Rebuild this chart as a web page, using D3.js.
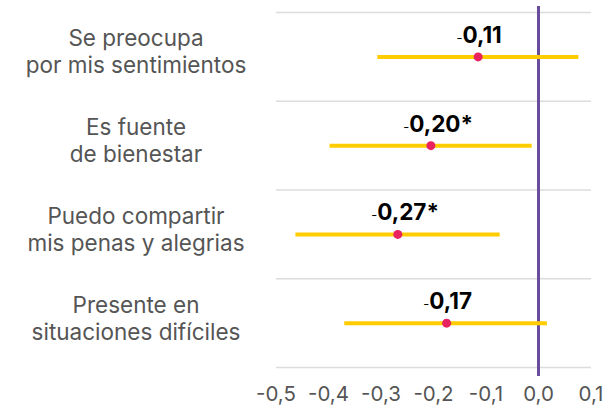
<!DOCTYPE html>
<html>
<head>
<meta charset="utf-8">
<script src="https://cdn.jsdelivr.net/npm/d3@7"></script>
<style>
  body { margin: 0; background: #fff; }
  svg { display: block; }
</style>
</head>
<body>
<div id="chart"></div>
<script>
var categories = [
  ["Se preocupa", "por mis sentimientos"],
  ["Es fuente", "de bienestar"],
  ["Puedo compartir", "mis penas y alegrias"],
  ["Presente en", "situaciones difíciles"]
];
var estimates = [-0.115, -0.205, -0.268, -0.175];
var lower = [-0.307, -0.398, -0.463, -0.370];
var upper = [0.076, -0.013, -0.074, 0.016];
var valueLabels = ["0,11", "0,20", "0,27", "0,17"];
var significant = [false, true, true, false];
var xTicks = [-0.5, -0.4, -0.3, -0.2, -0.1, 0.0, 0.1];

var width = 605, height = 405;
var font = "Inter, Roboto, sans-serif";
var svg = d3.select("#chart").append("svg").attr("width", width).attr("height", height);

var x = d3.scaleLinear().domain([-0.5, 0.1]).range([276, 591]);
var y = d3.scaleBand().domain(d3.range(categories.length)).range([12.5, 367.5]);

// gridlines at band edges
var edges = y.domain().map(function(d){ return y(d); }).concat([y.range()[1]]);
svg.selectAll("line.grid").data(edges).enter().append("line")
  .attr("class", "grid")
  .attr("x1", x(-0.5)).attr("x2", x(0.1))
  .attr("y1", function(d){ return d; }).attr("y2", function(d){ return d; })
  .attr("stroke", "#dcdcdc").attr("stroke-width", 1.5);

// category labels
var labels = svg.selectAll("text.cat").data(categories).enter().append("text")
  .attr("class", "cat")
  .attr("text-anchor", "middle")
  .attr("font-family", font)
  .attr("font-size", 22.5)
  .attr("fill", "#555");
labels.each(function(lines, i){
  var cy = y(i) + y.bandwidth() / 2;
  d3.select(this).selectAll("tspan").data(lines).enter().append("tspan")
    .attr("x", 136)
    .attr("y", function(d, j){ return cy - 10.5 + j * 27; })
    .text(function(d){ return d; });
});

// zero line
svg.append("line")
  .attr("x1", x(0)).attr("x2", x(0))
  .attr("y1", 6).attr("y2", 376)
  .attr("stroke", "#6a4c9c").attr("stroke-width", 3);

// confidence intervals
svg.selectAll("line.ci").data(estimates).enter().append("line")
  .attr("class", "ci")
  .attr("x1", function(d, i){ return x(lower[i]); })
  .attr("x2", function(d, i){ return x(upper[i]); })
  .attr("y1", function(d, i){ return y(i) + y.bandwidth() / 2; })
  .attr("y2", function(d, i){ return y(i) + y.bandwidth() / 2; })
  .attr("stroke", "#ffcc00").attr("stroke-width", 4);

svg.selectAll("circle.est").data(estimates).enter().append("circle")
  .attr("class", "est")
  .attr("cx", function(d){ return x(d); })
  .attr("cy", function(d, i){ return y(i) + y.bandwidth() / 2; })
  .attr("r", 4.5)
  .attr("fill", "#e8235f");

// value labels: small minus, bold number, centred on the point, asterisk after
estimates.forEach(function(d, i){
  var cy = y(i) + y.bandwidth() / 2;
  var t = svg.append("text")
    .attr("font-family", font)
    .attr("fill", "#000")
    .attr("y", cy - 14);
  t.append("tspan").attr("font-size", 13).attr("font-weight", 400).text("-");
  t.append("tspan").attr("font-size", 22.5).attr("font-weight", 700).text(valueLabels[i]);
  var w = t.node().getComputedTextLength();
  t.attr("x", x(d) - w / 2 + 1);
  if (significant[i]) {
    t.append("tspan").attr("font-size", 22.5).attr("font-weight", 700).text("*");
  }
});

// axis tick labels
svg.selectAll("text.tick").data(xTicks).enter().append("text")
  .attr("class", "tick")
  .attr("x", function(d){ return x(d); })
  .attr("y", 401)
  .attr("text-anchor", "middle")
  .attr("font-family", font)
  .attr("font-size", 20.5)
  .attr("fill", "#555")
  .text(function(d){ return d3.format(".1f")(d).replace("−", "-").replace(".", ","); });
</script>
</body>
</html>
